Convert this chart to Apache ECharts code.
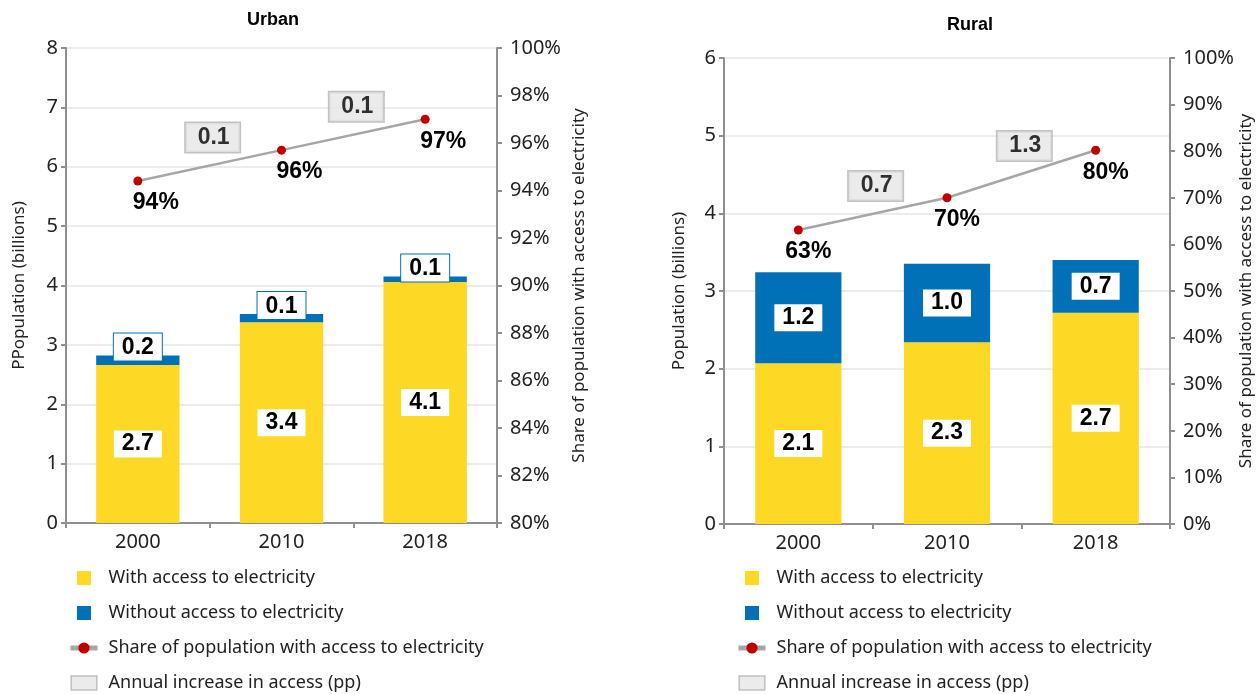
<!DOCTYPE html>
<html>
<head>
<meta charset="utf-8">
<script src="https://cdn.jsdelivr.net/npm/echarts@6/dist/echarts.min.js"></script>
<style>
  html, body { margin: 0; padding: 0; background: #fff; }
  #chart { width: 1260px; height: 694px; }
</style>
</head>
<body>
<div id="chart"></div>
<script>
// categories
const years = ['2000', '2010', '2018'];

// Urban (billions / %)
const urbanWith = [2.66, 3.38, 4.06];
const urbanWithout = [0.16, 0.14, 0.09];
const urbanShare = [94.4, 95.7, 97.0];
const urbanIncrease = [0.1, 0.1];

// Rural
const ruralWith = [2.07, 2.34, 2.72];
const ruralWithout = [1.17, 1.01, 0.68];
const ruralShare = [63.1, 70.0, 80.2];
const ruralIncrease = [0.7, 1.3];

const NAME_WITH = 'With access to electricity';
const NAME_WITHOUT = 'Without access to electricity';
const NAME_SHARE = 'Share of population with access to electricity';
const NAME_PP = 'Annual increase in access (pp)';

const YELLOW = '#fdd825';
const BLUE = '#0071b6';
const AXIS_GREY = '#8f8f8f';
const FONT = "'Noto Sans', 'Open Sans', sans-serif";
const BOLD_FONT = "'Liberation Sans', Arial, sans-serif";

const chart = echarts.init(document.getElementById('chart'));

// boxes sit at the middle of each line segment
function increasePoints(share, inc) {
    return inc.map((v, i) => [i + 1, (share[i] + share[i + 1]) / 2, v]);
}

const boxLabel = {
    show: true,
    position: 'inside',
    offset: [3, -28],
    formatter: p => p.value[2].toFixed(1),
    backgroundColor: '#e6e6e6',
    borderColor: '#b3b3b3',
    borderWidth: 1.5,
    padding: [4, 10, 2, 12],
    color: '#000',
    fontFamily: BOLD_FONT,
    fontWeight: 'bold',
    fontSize: 23
};

const valueLabel = {
    show: true,
    formatter: p => p.value.toFixed(1),
    backgroundColor: '#fff',
    padding: [3, 8, 1, 8],
    color: '#000',
    fontFamily: BOLD_FONT,
    fontWeight: 'bold',
    fontSize: 23
};

function yAxisLeft(gridIndex, max, name, gap) {
    return {
        gridIndex: gridIndex, type: 'value', min: 0, max: max, interval: 1,
        name: name, nameLocation: 'middle', nameGap: gap, nameRotate: 90,
        nameTextStyle: { fontFamily: FONT, fontSize: 17, color: '#222' },
        axisLine: { show: true, lineStyle: { color: AXIS_GREY, width: 2 } },
        axisTick: { show: true, length: 5, lineStyle: { color: AXIS_GREY, width: 2 } },
        axisLabel: { fontFamily: FONT, fontSize: 20, color: '#222', margin: 8 },
        splitLine: { show: true, lineStyle: { color: '#ececec', width: 2 } }
    };
}

function yAxisRight(gridIndex, min, max, interval, gap) {
    return {
        gridIndex: gridIndex, type: 'value', position: 'right', min: min, max: max, interval: interval,
        name: NAME_SHARE, nameLocation: 'middle', nameGap: gap, nameRotate: 90,
        nameTextStyle: { fontFamily: FONT, fontSize: 17, color: '#222' },
        axisLine: { show: true, lineStyle: { color: AXIS_GREY, width: 2 } },
        axisTick: { show: true, length: 5, lineStyle: { color: AXIS_GREY, width: 2 } },
        axisLabel: { fontFamily: FONT, fontSize: 20, color: '#222', margin: 13, formatter: '{value}%' },
        splitLine: { show: false }
    };
}

function xCat(gridIndex) {
    return {
        gridIndex: gridIndex, type: 'category', data: years,
        axisLine: { lineStyle: { color: AXIS_GREY, width: 2 } },
        axisTick: { show: true, length: 5, lineStyle: { color: AXIS_GREY, width: 2 } },
        axisLabel: { fontFamily: FONT, fontSize: 20, color: '#222', margin: 9 }
    };
}

function xHidden(gridIndex) {
    return { gridIndex: gridIndex, type: 'value', min: 0, max: 3, show: false };
}

function panelSeries(xCatIdx, xHidIdx, yLeft, yRight, withData, withoutData, shareData, incData, withoutOnTop, shareOffset) {
    return [
        {
            name: NAME_WITH, type: 'bar', stack: 'pop' + yLeft,
            xAxisIndex: xCatIdx, yAxisIndex: yLeft,
            barWidth: '58%', itemStyle: { color: YELLOW },
            label: Object.assign({}, valueLabel, { position: 'inside' }),
            data: withData
        },
        {
            name: NAME_WITHOUT, type: 'bar', stack: 'pop' + yLeft,
            xAxisIndex: xCatIdx, yAxisIndex: yLeft,
            barWidth: '58%', itemStyle: { color: BLUE },
            label: withoutOnTop
                ? Object.assign({}, valueLabel, { position: 'top', distance: -5, borderColor: BLUE, borderWidth: 1 })
                : Object.assign({}, valueLabel, { position: 'inside' }),
            data: withoutData
        },
        {
            name: NAME_SHARE, type: 'line',
            xAxisIndex: xCatIdx, yAxisIndex: yRight,
            symbol: 'circle', symbolSize: 9,
            itemStyle: { color: '#c00000' },
            lineStyle: { color: '#a6a6a6', width: 2.5 },
            label: {
                show: true, position: 'bottom', distance: 6, offset: shareOffset,
                formatter: p => Math.round(p.value) + '%',
                color: '#000', fontFamily: BOLD_FONT, fontWeight: 'bold', fontSize: 23
            },
            z: 5,
            data: shareData
        },
        {
            name: NAME_PP, type: 'scatter',
            xAxisIndex: xHidIdx, yAxisIndex: yRight,
            symbolSize: 0,
            itemStyle: { color: '#e6e6e6', borderColor: '#b3b3b3' },
            label: boxLabel,
            z: 6,
            data: increasePoints(shareData, incData)
        }
    ];
}

const squareIcon = 'path://M0,0H10V10H0Z';
const legendData = [
    { name: NAME_WITH, icon: squareIcon },
    { name: NAME_WITHOUT, icon: squareIcon },
    { name: NAME_SHARE, lineStyle: { width: 5, color: '#a6a6a6' } },
    { name: NAME_PP, icon: 'path://M0,0H22V12H0Z', itemStyle: { color: '#e6e6e6', borderColor: '#b3b3b3', borderWidth: 1.5 } }
];

function legendAt(left) {
    return {
        orient: 'vertical', left: left, top: 569, padding: 0, height: 125,
        itemWidth: 27, itemHeight: 14, itemGap: 17,
        selectedMode: false,
        textStyle: { fontFamily: FONT, fontSize: 18, color: '#222', padding: [0, 0, 0, 6] },
        data: legendData
    };
}

const option = {
    animation: false,
    backgroundColor: '#fff',
    title: [
        { text: 'Urban', left: 268, top: 6, textAlign: 'center',
          textStyle: { fontFamily: "'Liberation Sans Narrow', 'Liberation Sans', sans-serif", fontWeight: 'bold', fontSize: 18, color: '#000' } },
        { text: 'Rural', left: 965, top: 11, textAlign: 'center',
          textStyle: { fontFamily: "'Liberation Sans Narrow', 'Liberation Sans', sans-serif", fontWeight: 'bold', fontSize: 18, color: '#000' } }
    ],
    legend: [legendAt(68), legendAt(736)],
    grid: [
        { left: 66, top: 48, width: 431, height: 475 },
        { left: 724, top: 58, width: 446, height: 466 }
    ],
    xAxis: [xCat(0), xHidden(0), xCat(1), xHidden(1)],
    yAxis: [
        yAxisLeft(0, 8, 'PPopulation (billions)', 38),
        yAxisRight(0, 80, 100, 2, 74),
        yAxisLeft(1, 6, 'Population (billions)', 36),
        yAxisRight(1, 0, 100, 10, 68)
    ],
    series: [].concat(
        panelSeries(0, 1, 0, 1, urbanWith, urbanWithout, urbanShare, urbanIncrease, true, [18, 0]),
        panelSeries(2, 3, 2, 3, ruralWith, ruralWithout, ruralShare, ruralIncrease, false, [10, 0])
    )
};

chart.setOption(option);
</script>
</body>
</html>
